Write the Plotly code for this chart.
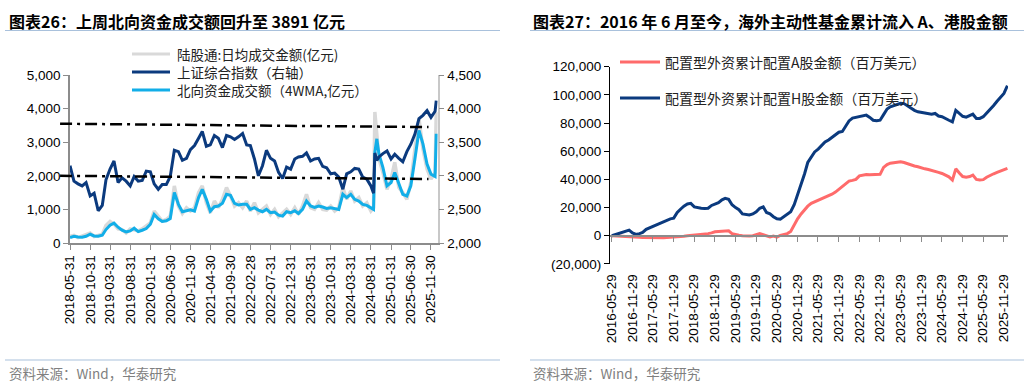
import plotly.graph_objects as go
import pandas as pd

W, H = 1030, 384

# ---------------- Left chart data (图表26) ----------------
left_monthly = pd.date_range("2018-05-31", "2025-12-31", freq="ME").strftime("%Y-%m-%d").tolist()
left_extra = ["2024-09-20", "2024-10-15", "2026-01-09"]
left_dates = sorted(left_monthly + left_extra)

sh_index = [
    3150, 2920, 2880, 2850, 2900, 2700, 2740, 2480,
    2560, 2940, 3100, 3220, 2900, 2970, 2920, 2850, 2990, 2920, 2930, 3070,
    3060, 2880, 2800, 2870, 2870, 2990, 3380, 3360, 3230, 3260, 3390, 3450,
    3560, 3660, 3440, 3460, 3600, 3560, 3420, 3600, 3580, 3540, 3580, 3630,
    3460, 3450, 3250, 3000, 3150, 3380, 3260, 3220, 3050, 2960, 3130, 3100,
    3250, 3280, 3290, 3340, 3220, 3250, 3260, 3140, 3120, 3030, 3040, 2980,
    2800, 3030, 3060, 3110, 3100, 2980, 2950, 2850, 2740, 3340, 3230, 3280, 3330, 3370,
    3250, 3320, 3260, 3210, 3360, 3470, 3620, 3850, 3900, 3970, 3870, 3960,
    4120,
]
north_4wma = [
    160, 200, 180, 170, 200, 260, 210, 200,
    230, 400, 530, 590, 470, 380, 330, 360, 440, 340, 380, 430,
    560, 850, 720, 640, 660, 730, 1500, 1150, 930, 960, 990, 950,
    1350, 1600, 1300, 950, 1080, 1100, 1180, 1450, 1420, 1180, 1130, 1150,
    1150, 1000, 1050, 980, 930, 1000, 900, 920, 830, 800, 930, 900,
    960, 880, 1000, 1250, 1100, 1060, 1100, 1070, 1030, 1050, 1020, 1000,
    1450, 1350, 1450, 1300, 1250, 1150, 1120, 1030, 1000, 2700, 3100, 2650, 2250, 1700,
    1800, 2100, 1750, 1450, 1400, 1700, 2500, 3350, 2950, 2350, 2050, 1980,
    3250,
]
daily_turnover = [
    200, 230, 160, 200, 250, 300, 190, 220,
    260, 520, 640, 560, 420, 400, 300, 420, 380, 360, 420, 500,
    600, 950, 780, 650, 700, 800, 1700, 1100, 880, 1050, 950, 1050,
    1500, 1700, 1200, 900, 1250, 1050, 1300, 1650, 1400, 1100, 1200, 1050,
    1250, 950, 1200, 900, 1000, 1100, 850, 1000, 780, 900, 1000, 850,
    1050, 850, 1100, 1450, 1050, 1000, 1200, 1000, 980, 1100, 950, 1050,
    1650, 1300, 1550, 1250, 1350, 1100, 1200, 950, 1050, 3900, 3300, 2500, 2100, 1600,
    1900, 2400, 1650, 1500, 1300, 1800, 2800, 3700, 2800, 2200, 1900, 2100,
    3891,
]
assert len(left_dates) == len(sh_index) == len(north_4wma) == len(daily_turnover)

left_names = ["陆股通:日均成交金额(亿元)", "上证综合指数（右轴）", "北向资金成交额（4WMA,亿元）"]
left_ticks = ["2018-05-31", "2018-10-31", "2019-03-31", "2019-08-31", "2020-01-31",
              "2020-06-30", "2020-11-30", "2021-04-30", "2021-09-30", "2022-02-28",
              "2022-07-31", "2022-12-31", "2023-05-31", "2023-10-31", "2024-03-31",
              "2024-08-31", "2025-01-31", "2025-06-30", "2025-11-30"]
ref_upper = [3550, 3450]   # dash-dot reference levels (left axis), start -> end
ref_lower = [2000, 1905]

# ---------------- Right chart data (图表27) ----------------
right_dates = pd.date_range("2016-05-31", "2025-12-31", freq="ME").strftime("%Y-%m-%d").tolist()
cum_h = [
    0, 800, 1800, 2800, 3500, 4000, 2000, 900,
    1500, 2300, 4500, 5500, 7000, 8000, 8800, 9500, 11000, 12000, 12500, 16500,
    19000, 21000, 22500, 23000, 20500, 19800, 19500, 19300, 19500, 21500, 22500, 23500,
    25500, 26500, 25800, 22000, 20000, 18500, 15500, 15000, 14700, 15500, 17000, 19500,
    20500, 16500, 15500, 13500, 12000, 11800, 13500, 15000, 17000, 22000, 29000, 36000,
    44000, 52000, 56000, 59500, 61500, 64000, 66500, 68000, 69800, 72000, 73500, 74000,
    78000, 81500, 83500, 84000, 84200, 85000, 85600, 84000, 82000, 81600, 82000, 86000,
    90000, 91500, 92500, 93500, 94000, 93800, 92000, 90500, 89000, 88000, 87500, 87000,
    86500, 86300, 86800, 85000, 84500, 83500, 82000, 80800, 89000, 86800, 84800, 84200,
    85500, 86300, 83300, 83300, 84500, 87000, 90000, 92500, 95500, 98000, 101000, 106500,
]
cum_a = [
    0, -200, -400, -600, -700, -800, -900, -1000,
    -1100, -1200, -1300, -1400, -1500, -1500, -1400, -1500, -1300, -1200, -1000, -900,
    -700, -400, 0, 200, 400, 600, 800, 1200, 1500, 2000, 2800, 3000,
    3100, 3300, 3500, 1500, 800, 300, 0, -300, -200, 0, 600, 1500,
    700, -200, -800, -200, -1000, 200, 1000, 1500, 3000, 8000, 12000, 15500,
    18500, 21000, 23000, 24000, 25500, 26500, 27500, 28500, 29500, 31000, 33000, 35000,
    37500, 38800, 39300, 40000, 42500, 43200, 43500, 43300, 43500, 43600, 43600, 48500,
    50500, 51500, 52000, 52500, 52500, 52000, 51000, 50500, 49500, 49000, 48000, 47500,
    47000, 46500, 46000, 45000, 44200, 43000, 41800, 39500, 47500, 44500, 42000, 41500,
    42000, 43000, 40000, 39500, 39800, 41500, 43000, 44000, 45000, 45800, 46500, 47800,
]
assert len(right_dates) == len(cum_h) == len(cum_a)

right_names = ["配置型外资累计配置A股金额（百万美元）", "配置型外资累计配置H股金额（百万美元）"]
right_ticks = ["2016-05-29", "2016-11-29", "2017-05-29", "2017-11-29", "2018-05-29",
               "2018-11-29", "2019-05-29", "2019-11-29", "2020-05-29", "2020-11-29",
               "2021-05-29", "2021-11-29", "2022-05-29", "2022-11-29", "2023-05-29",
               "2023-11-29", "2024-05-29", "2024-11-29", "2025-05-29", "2025-11-29"]
right_yticks = [-20000, 0, 20000, 40000, 60000, 80000, 100000, 120000]
right_ytext = ["(20,000)", "0", "20,000", "40,000", "60,000", "80,000", "100,000", "120,000"]

# ---------------- styling ----------------
NUM_FONT = "Liberation Sans, Arial, Noto Sans CJK SC"
CJK_FONT = "Noto Sans CJK SC, Liberation Sans"
NAVY = "#0b3a7e"
SKY = "#12aee8"
GREY = "#d9d9d9"
PINK = "#ff6b6b"
AXIS_GREY = "#8c8c8c"
RULE = "#a9c1dc"


def px(x):
    return x / W


def py(y):
    return 1 - y / H


fig = go.Figure()

# left chart traces
fig.add_trace(go.Scatter(x=left_dates, y=daily_turnover, mode="lines",
                         line=dict(color=GREY, width=3.5), name=left_names[0],
                         xaxis="x", yaxis="y"))
fig.add_trace(go.Scatter(x=left_dates, y=north_4wma, mode="lines",
                         line=dict(color=SKY, width=3), name=left_names[2],
                         xaxis="x", yaxis="y"))
fig.add_trace(go.Scatter(x=left_dates, y=sh_index, mode="lines",
                         line=dict(color=NAVY, width=3), name=left_names[1],
                         xaxis="x", yaxis="y2"))

# right chart traces
fig.add_trace(go.Scatter(x=right_dates, y=cum_a, mode="lines",
                         line=dict(color=PINK, width=3), name=right_names[0],
                         xaxis="x3", yaxis="y3"))
fig.add_trace(go.Scatter(x=right_dates, y=cum_h, mode="lines",
                         line=dict(color=NAVY, width=3), name=right_names[1],
                         xaxis="x3", yaxis="y3"))
fig.add_trace(go.Scatter(x=[], y=[], mode="lines", showlegend=False,
                         xaxis="x4", yaxis="y3", hoverinfo="skip"))

# geometry
L_dom_x = [px(70), px(437.7)]
L_dom_y = [py(243), py(75)]
R_dom_x = [px(610), px(1008)]
R_dom_y = [py(263.9), py(66.7)]
r_range = [right_yticks[0], right_yticks[-1]]
zero_pos = R_dom_y[0] + (R_dom_y[1] - R_dom_y[0]) * (0 - r_range[0]) / (r_range[1] - r_range[0])

tickfont = dict(family=NUM_FONT, size=13.5, color="#000000")
common = dict(automargin=False, showgrid=False, zeroline=False)

fig.update_layout(
    width=W, height=H, margin=dict(l=0, r=0, t=0, b=0, autoexpand=False),
    paper_bgcolor="white", plot_bgcolor="white", showlegend=False,
    xaxis=dict(domain=L_dom_x, anchor="y", type="date",
               range=["2018-05-31", "2026-01-20"],
               tickvals=left_ticks, ticktext=left_ticks, tickangle=-90,
               ticks="outside", ticklen=5, tickcolor=AXIS_GREY,
               showline=True, linecolor=AXIS_GREY, linewidth=1.5,
               tickfont=tickfont, **common),
    yaxis=dict(domain=L_dom_y, anchor="x", range=[0, 5000], dtick=1000,
               tickformat=",d", ticks="outside", ticklen=5, tickcolor=AXIS_GREY,
               showline=True, linecolor=AXIS_GREY, linewidth=1.5,
               tickfont=tickfont, **common),
    yaxis2=dict(overlaying="y", side="right", anchor="x", range=[2000, 4500], dtick=500,
                tickformat=",d", ticks="outside", ticklen=5, tickcolor=AXIS_GREY,
                showline=True, linecolor="#c8c8c8", linewidth=1.5,
                tickfont=tickfont, **common),
    xaxis3=dict(domain=R_dom_x, anchor="y3", type="date",
                range=["2016-05-15", "2026-01-05"],
                tickvals=right_ticks, ticktext=right_ticks, tickangle=-90,
                ticks="outside", ticklen=4, tickcolor="rgba(0,0,0,0)",
                showline=False, tickfont=tickfont, **common),
    xaxis4=dict(overlaying="x3", anchor="free", position=zero_pos, type="date",
                range=["2016-05-15", "2026-01-05"], tickvals=right_ticks,
                showticklabels=False, ticks="outside", ticklen=5, tickcolor=AXIS_GREY,
                showline=True, linecolor=AXIS_GREY, linewidth=2, **common),
    yaxis3=dict(domain=R_dom_y, anchor="x3", range=r_range,
                tickvals=right_yticks, ticktext=right_ytext,
                ticks="outside", ticklen=5, tickcolor="#000000",
                showline=True, linecolor="#000000", linewidth=1.2,
                tickfont=tickfont, **common),
)

# manual legends (line sample + label)
left_leg = [(54, GREY, left_names[0]), (72, NAVY, left_names[1]), (90, SKY, left_names[2])]
for y, c, t in left_leg:
    fig.add_shape(type="line", xref="paper", yref="paper", x0=px(132), x1=px(170),
                  y0=py(y), y1=py(y), line=dict(color=c, width=3))
    fig.add_annotation(x=px(175), y=py(y), xref="paper", yref="paper", xanchor="left",
                       yanchor="middle", showarrow=False, text=t,
                       font=dict(family=CJK_FONT, size=13.5, color="#222222"))
right_leg = [(62, PINK, right_names[0]), (98, NAVY, right_names[1])]
for y, c, t in right_leg:
    fig.add_shape(type="line", xref="paper", yref="paper", x0=px(620), x1=px(660),
                  y0=py(y), y1=py(y), line=dict(color=c, width=3))
    fig.add_annotation(x=px(663), y=py(y), xref="paper", yref="paper", xanchor="left",
                       yanchor="middle", showarrow=False, text=t,
                       font=dict(family=CJK_FONT, size=14, color="#222222"))

# dash-dot reference lines on left chart
for lv in (ref_upper, ref_lower):
    fig.add_shape(type="line", xref="x domain", yref="y", x0=-0.027, x1=0.975,
                  y0=lv[0], y1=lv[1], line=dict(color="#000000", width=2.5, dash="12px,5px,3px,5px"))

# title rules and source rules
for x0, x1 in ((5, 500), (530, 1024)):
    for yy in (30.5, 360):
        fig.add_shape(type="line", xref="paper", yref="paper", x0=px(x0), x1=px(x1),
                      y0=py(yy), y1=py(yy), line=dict(color=RULE, width=1.2))

titles = [
    (7, "图表26：上周北向资金成交额回升至 3891 亿元"),
    (531, "图表27：2016 年 6 月至今，海外主动性基金累计流入 A、港股金额"),
]
for x, t in titles:
    fig.add_annotation(x=px(x), y=py(21), xref="paper", yref="paper", xanchor="left",
                       yanchor="middle", showarrow=False, text="<b>" + t + "</b>",
                       font=dict(family=CJK_FONT, size=16, color="#000000"))
for x in (7, 531):
    fig.add_annotation(x=px(x), y=py(373), xref="paper", yref="paper", xanchor="left",
                       yanchor="middle", showarrow=False, text="资料来源：Wind，华泰研究",
                       font=dict(family=CJK_FONT, size=13.5, color="#7f7f7f"))

fig.write_html("out.html", config={"displayModeBar": False},
               post_script="document.body.style.margin='0';")
